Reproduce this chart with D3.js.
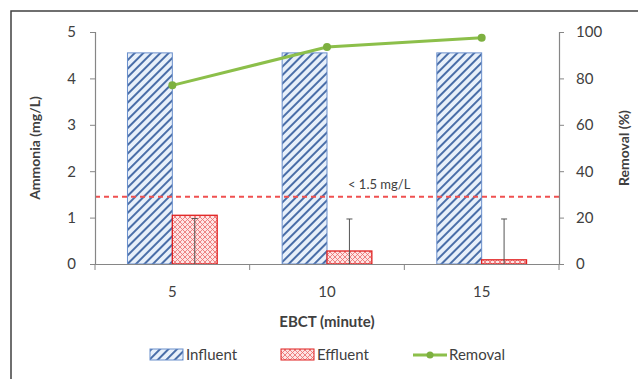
<!DOCTYPE html>
<html>
<head>
<meta charset="utf-8">
<script src="https://cdn.jsdelivr.net/npm/d3@7"></script>
<style>
  body { margin: 0; background: #fff; }
  text { font-family: Lato, "Open Sans", sans-serif; fill: #404040; }
</style>
</head>
<body>
<svg id="chart" width="638" height="379"></svg>
<script>
// data
var categories = ["5", "10", "15"];
var influent = [4.55, 4.55, 4.55];
var effluent = [1.05, 0.28, 0.09];
var errTop = [0.98, 0.97, 0.97];
var removal = [77, 93.5, 97.5];
var leftTicks = [0, 1, 2, 3, 4, 5];
var rightTicks = [0, 20, 40, 60, 80, 100];
var limit = 1.45;

var svg = d3.select("#chart");
var margin = {top: 32, right: 79, bottom: 115, left: 95};
var width = 638 - margin.left - margin.right;
var height = 379 - margin.top - margin.bottom;

// outer frame (only top/left visible in the picture)
svg.append("rect").attr("x", 11).attr("y", 11).attr("width", 700).attr("height", 500)
    .attr("fill", "none").attr("stroke", "#404040").attr("stroke-width", 1.5);

var defs = svg.append("defs");
var p1 = defs.append("pattern").attr("id", "diag").attr("patternUnits", "userSpaceOnUse")
    .attr("width", 6).attr("height", 6).attr("patternTransform", "rotate(45)");
p1.append("rect").attr("width", 6).attr("height", 6).attr("fill", "#e8f0fa");
p1.append("rect").attr("width", 2).attr("height", 6).attr("fill", "#4a6ea8");

var p2 = defs.append("pattern").attr("id", "cross").attr("patternUnits", "userSpaceOnUse")
    .attr("width", 5).attr("height", 5);
p2.append("rect").attr("width", 5).attr("height", 5).attr("fill", "#fde4e4");
p2.append("path").attr("d", "M0,0L5,5M5,0L0,5").attr("stroke", "#ea6a6a").attr("stroke-width", 0.8);

var g = svg.append("g").attr("transform", "translate(" + margin.left + "," + margin.top + ")");

var x = d3.scaleBand().domain(categories).range([0, width]);
var y = d3.scaleLinear().domain([0, 5]).range([height, 0]);
var y2 = d3.scaleLinear().domain([0, 100]).range([height, 0]);
var barW = x.bandwidth() * 0.29;

// bars
g.selectAll(".inf").data(categories).enter().append("rect")
    .attr("x", function(d) { return x(d) + x.bandwidth() / 2 - barW; })
    .attr("y", function(d, i) { return y(influent[i]); })
    .attr("width", barW)
    .attr("height", function(d, i) { return height - y(influent[i]); })
    .attr("fill", "url(#diag)").attr("stroke", "#6a8fcc").attr("stroke-width", 1);

g.selectAll(".eff").data(categories).enter().append("rect")
    .attr("x", function(d) { return x(d) + x.bandwidth() / 2; })
    .attr("y", function(d, i) { return y(effluent[i]); })
    .attr("width", barW)
    .attr("height", function(d, i) { return height - y(effluent[i]); })
    .attr("fill", "url(#cross)").attr("stroke", "#e02020").attr("stroke-width", 1.3);

// error bars
var eb = g.selectAll(".err").data(categories).enter().append("g");
eb.append("line")
    .attr("x1", function(d) { return x(d) + x.bandwidth() / 2 + barW / 2; })
    .attr("x2", function(d) { return x(d) + x.bandwidth() / 2 + barW / 2; })
    .attr("y1", y(0))
    .attr("y2", function(d, i) { return y(errTop[i]); })
    .attr("stroke", "#555").attr("stroke-width", 1);
eb.append("line")
    .attr("x1", function(d) { return x(d) + x.bandwidth() / 2 + barW / 2 - 3; })
    .attr("x2", function(d) { return x(d) + x.bandwidth() / 2 + barW / 2 + 3; })
    .attr("y1", function(d, i) { return y(errTop[i]); })
    .attr("y2", function(d, i) { return y(errTop[i]); })
    .attr("stroke", "#555").attr("stroke-width", 1);

// limit line
g.append("line").attr("x1", 0).attr("x2", width).attr("y1", y(limit)).attr("y2", y(limit))
    .attr("stroke", "#f05050").attr("stroke-width", 2).attr("stroke-dasharray", "5,4");
g.append("text").attr("x", x("10") + x.bandwidth() / 2 + 21).attr("y", y(limit) - 8)
    .attr("font-size", 13).text("< 1.5 mg/L");

// axes
var axL = g.append("g").call(d3.axisLeft(y).tickValues(leftTicks).tickFormat(d3.format("d")).tickSize(5).tickPadding(14));
var axR = g.append("g").attr("transform", "translate(" + width + ",0)")
    .call(d3.axisRight(y2).tickValues(rightTicks).tickSize(5).tickPadding(12));
var axB = g.append("g").attr("transform", "translate(0," + height + ")")
    .call(d3.axisBottom(x).tickSize(0).tickPadding(22));
// category boundary ticks
g.selectAll(".bt").data([0, 1, 2, 3]).enter().append("line")
    .attr("x1", function(d) { return d * x.step(); }).attr("x2", function(d) { return d * x.step(); })
    .attr("y1", height).attr("y2", height + 6).attr("stroke", "#868686");
[axL, axR, axB].forEach(function(a) {
    a.selectAll("path, line").attr("stroke", "#868686");
    a.selectAll("path").attr("stroke-width", 1.2);
    a.selectAll("text").attr("font-size", 15).attr("fill", "#404040").style("font-family", "Lato, sans-serif");
});

// removal line
var line = d3.line()
    .x(function(d, i) { return x(categories[i]) + x.bandwidth() / 2; })
    .y(function(d) { return y2(d); });
g.append("path").datum(removal).attr("d", line)
    .attr("fill", "none").attr("stroke", "#8cbf4a").attr("stroke-width", 3);
g.selectAll(".pt").data(removal).enter().append("circle")
    .attr("cx", function(d, i) { return x(categories[i]) + x.bandwidth() / 2; })
    .attr("cy", function(d) { return y2(d); })
    .attr("r", 4).attr("fill", "#7db040");

// axis titles
svg.append("text").attr("transform", "translate(40," + (margin.top + height / 2) + ") rotate(-90)")
    .attr("text-anchor", "middle").attr("font-size", 14).attr("font-weight", "bold").text("Ammonia (mg/L)");
svg.append("text").attr("transform", "translate(629," + (margin.top + height / 2) + ") rotate(-90)")
    .attr("text-anchor", "middle").attr("font-size", 14).attr("font-weight", "bold").text("Removal (%)");
svg.append("text").attr("x", margin.left + width / 2).attr("y", 327)
    .attr("text-anchor", "middle").attr("font-size", 15).attr("font-weight", "bold").text("EBCT (minute)");

// legend
var lg = svg.append("g").attr("transform", "translate(0,355)");
lg.append("rect").attr("x", 150).attr("y", -6).attr("width", 33).attr("height", 11)
    .attr("fill", "url(#diag)").attr("stroke", "#6a8fcc");
lg.append("text").attr("x", 186).attr("y", 5).attr("font-size", 15).text("Influent");
lg.append("rect").attr("x", 281).attr("y", -6).attr("width", 33).attr("height", 11)
    .attr("fill", "url(#cross)").attr("stroke", "#e02020");
lg.append("text").attr("x", 317).attr("y", 5).attr("font-size", 15).text("Effluent");
lg.append("line").attr("x1", 413).attr("x2", 447).attr("y1", 0).attr("y2", 0)
    .attr("stroke", "#8cbf4a").attr("stroke-width", 3);
lg.append("circle").attr("cx", 430).attr("cy", 0).attr("r", 3.5).attr("fill", "#7db040");
lg.append("text").attr("x", 449).attr("y", 5).attr("font-size", 15).text("Removal");
</script>
</body>
</html>
